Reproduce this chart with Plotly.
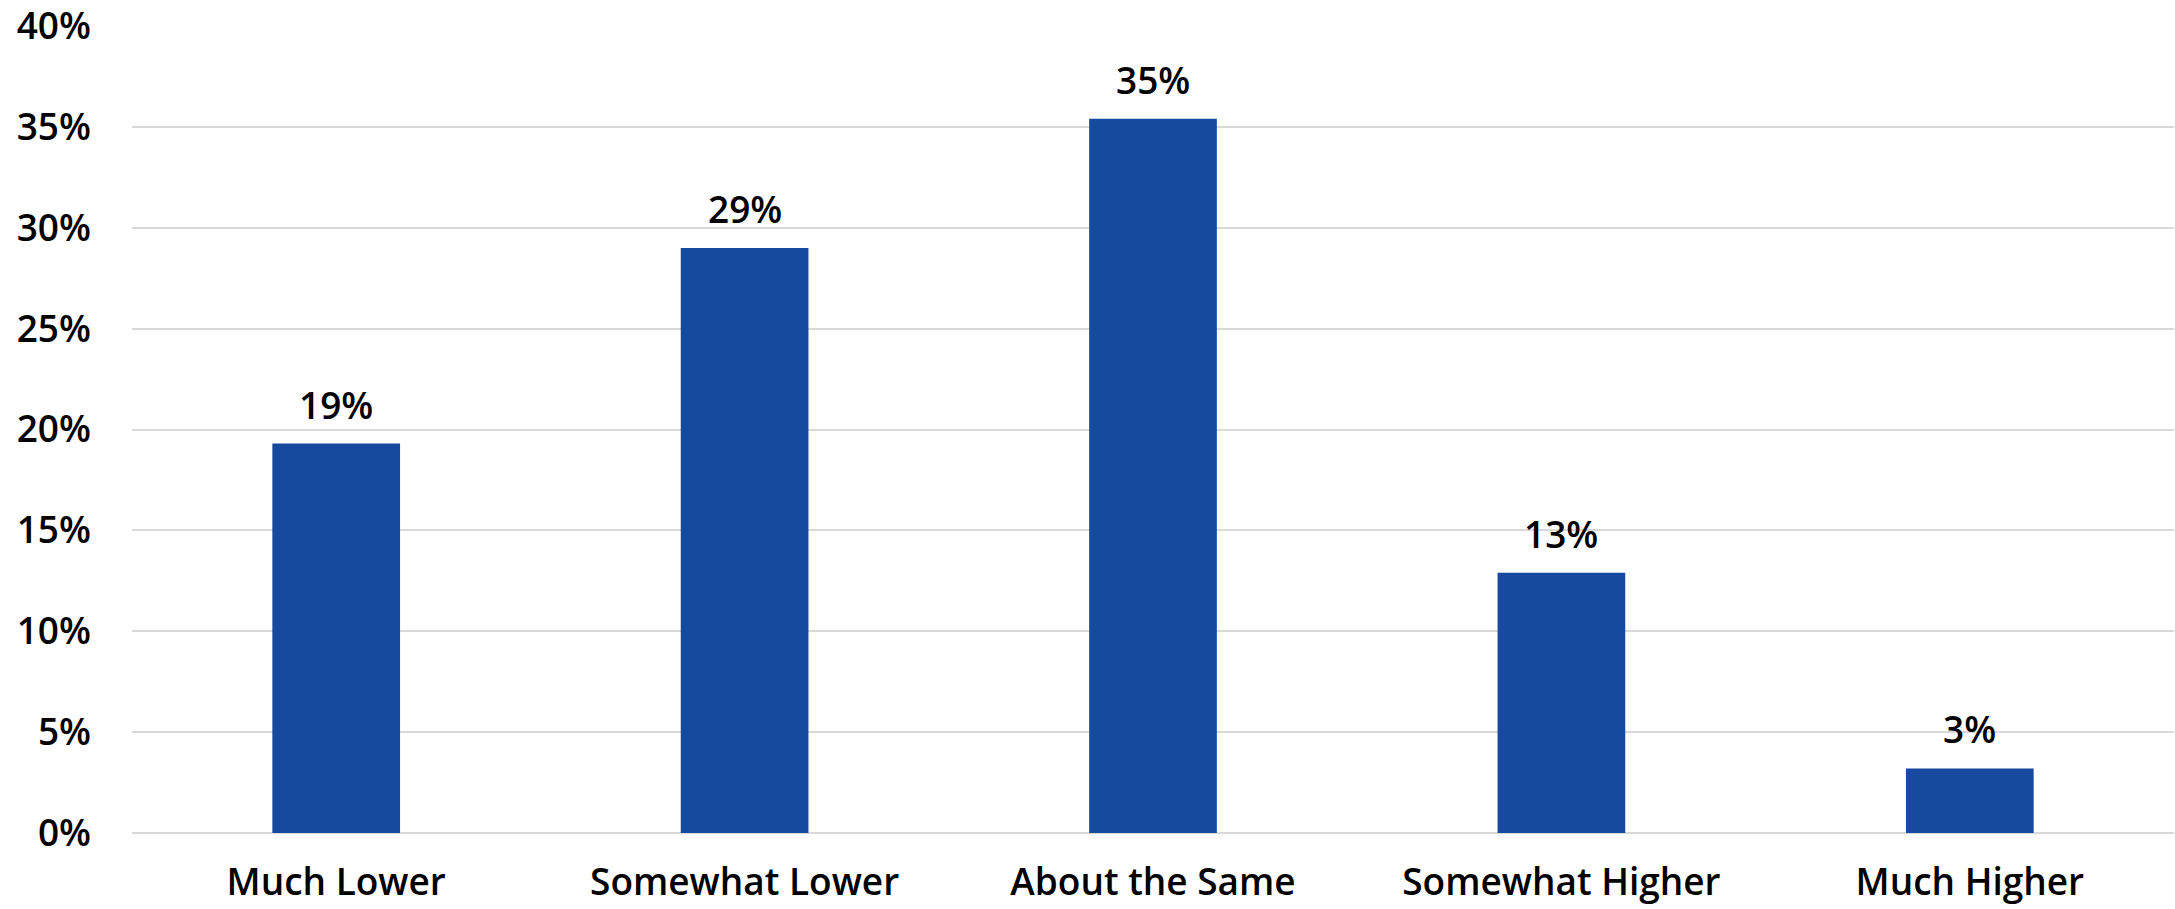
import plotly.graph_objects as go

categories = ["Much Lower", "Somewhat Lower", "About the Same", "Somewhat Higher", "Much Higher"]
values = [19.3, 29.0, 35.4, 12.9, 3.2]
labels = ["19%", "29%", "35%", "13%", "3%"]
y_ticks = [0, 5, 10, 15, 20, 25, 30, 35, 40]
y_tick_text = ["0%", "5%", "10%", "15%", "20%", "25%", "30%", "35%", "40%"]

FONT = "Open Sans"
BAR_COLOR = "#164A9E"
W = 600

fig = go.Figure()
fig.add_trace(go.Bar(
    x=categories, y=values,
    marker=dict(color=BAR_COLOR, line=dict(width=0)),
    width=0.3127,
    hoverinfo="skip",
))

for c, v, t in zip(categories, values, labels):
    fig.add_annotation(x=c, y=v, text=t, showarrow=False, yanchor="bottom",
                       yshift=12, font=dict(family=FONT, size=37, color="#000000", weight=W))

fig.update_layout(
    width=2175, height=909,
    margin=dict(l=132, r=1, t=26, b=76, pad=0, autoexpand=False),
    paper_bgcolor="white", plot_bgcolor="white",
    showlegend=False,
    font=dict(family=FONT, size=37, color="#000000"),
    bargap=0.6873,
)
fig.update_xaxes(
    showgrid=False, zeroline=False, showline=False, automargin=False,
    ticks="outside", ticklen=17, tickcolor="rgba(0,0,0,0)",
    tickfont=dict(family=FONT, size=37, color="#000000", weight=W),
)
fig.update_yaxes(
    range=[0, 40], tickvals=y_ticks, ticktext=y_tick_text,
    showgrid=True, gridcolor="#d9d9d9", gridwidth=1.5,
    zeroline=True, zerolinecolor="#d9d9d9", zerolinewidth=1.5,
    showline=False, ticks="", ticklabelstandoff=40, automargin=False,
    ticklabeloverflow="allow",
    tickfont=dict(family=FONT, size=37, color="#000000", weight=W),
)

fig.write_html("out.html")
